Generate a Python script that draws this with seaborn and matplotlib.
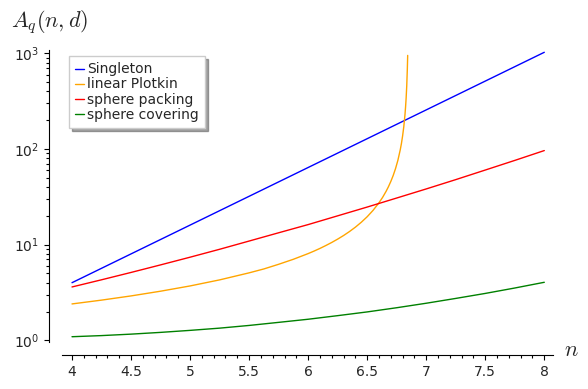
import matplotlib
matplotlib.use("Agg")
import matplotlib.pyplot as plt
import matplotlib.ticker as mticker
import seaborn as sns
import pandas as pd

# values
n_single = [4, 4.5, 5, 5.5, 6, 6.5, 7, 7.5, 8]
singleton = [4, 8, 16, 32, 64, 128, 256, 512, 1024]

n_plotkin = [4, 4.25, 4.5, 4.75, 5, 5.25, 5.5, 5.625, 5.75, 5.875, 6, 6.05,
             6.1, 6.15, 6.2, 6.25, 6.3, 6.35, 6.4, 6.45, 6.5, 6.55, 6.6, 6.63,
             6.66, 6.68, 6.7, 6.72, 6.74, 6.76, 6.78, 6.79, 6.8, 6.81, 6.82,
             6.825, 6.83, 6.835, 6.84, 6.843]
plotkin = [2.40, 2.63, 2.91, 3.26, 3.70, 4.28, 5.07, 5.57, 6.23, 7.03, 8.06,
           8.56, 9.13, 9.79, 10.54, 11.42, 12.45, 13.7, 15.22, 17.13, 19.57,
           22.83, 27.4, 31.1, 36.05, 40.3, 45.7, 52.7, 62.3, 76.1, 97.9, 114,
           137, 171, 228, 274, 342, 457, 685, 950]

n_grid = [4, 4.25, 4.5, 4.75, 5, 5.25, 5.5, 5.75, 6, 6.25, 6.5, 6.75, 7,
          7.25, 7.5, 7.75, 8]
packing = [3.61, 4.29, 5.12, 6.14, 7.39, 8.94, 10.9, 13.3, 16.2, 20.0, 24.7,
           30.7, 38.2, 47.8, 60.2, 75.9, 96.2]
covering = [1.09, 1.12, 1.16, 1.21, 1.27, 1.34, 1.43, 1.54, 1.66, 1.81, 1.98,
            2.19, 2.44, 2.74, 3.09, 3.52, 4.04]

sns.set_style("ticks")
plt.rcParams["font.family"] = ["DejaVu Sans"]

fig = plt.figure(figsize=(5.88, 3.89), dpi=100)
ax = fig.add_axes([62 / 588, 47 / 389, 491 / 588, 292 / 389])

series = [
    ("Singleton", n_single, singleton, "blue"),
    ("linear Plotkin", n_plotkin, plotkin, "orange"),
    ("sphere packing", n_grid, packing, "red"),
    ("sphere covering", n_grid, covering, "green"),
]
for label, xs, ys, color in series:
    df = pd.DataFrame({"n": xs, "A": ys})
    sns.lineplot(data=df, x="n", y="A", ax=ax, color=color, linewidth=1,
                 label=label, estimator=None, sort=False)

ax.set_yscale("log")
ax.set_xlim(3.9153, 8.0737)
ax.set_ylim(0.96, 1082)
ax.set_xlabel("")
ax.set_ylabel("")

ax.xaxis.set_major_locator(mticker.MultipleLocator(0.5))
ax.xaxis.set_minor_locator(mticker.MultipleLocator(0.1))
ax.xaxis.set_major_formatter(mticker.FuncFormatter(lambda v, p: f"{v:g}"))

for side in ["top", "right"]:
    ax.spines[side].set_visible(False)
for side in ["left", "bottom"]:
    ax.spines[side].set_position(("outward", 9.4))
    ax.spines[side].set_linewidth(0.8)
    ax.spines[side].set_color("black")
ax.tick_params(which="major", length=3.5, width=0.8, labelsize=10, color="black")
ax.tick_params(which="minor", length=2.4, width=0.8, color="black")

ax.legend(loc="upper left", bbox_to_anchor=(0.0143, 0.979), borderaxespad=0,
          fontsize=10, handlelength=0.65, handletextpad=0.2, labelspacing=0.08,
          borderpad=0.45, fancybox=False, shadow=True, framealpha=1,
          edgecolor="#cccccc")

fig.text(11 / 588, 1 - 22 / 389, r"$A_q(n,d)$", fontsize=16, va="center",
         ha="left", math_fontfamily="cm")
fig.text(564 / 588, 1 - 350 / 389, r"$n$", fontsize=16, va="center",
         ha="left", math_fontfamily="cm")

fig.savefig("out.png", dpi=100)
